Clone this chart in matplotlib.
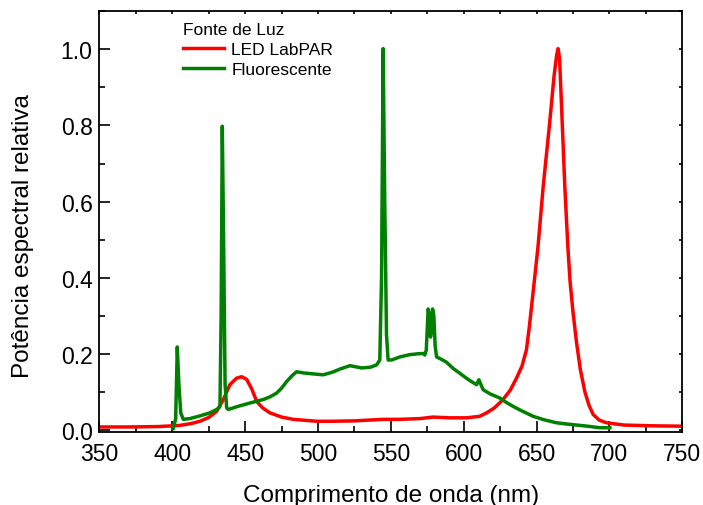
import matplotlib
matplotlib.use('Agg')
import matplotlib.pyplot as plt
from matplotlib.ticker import MultipleLocator, FormatStrFormatter

plt.rcParams['font.family'] = ['Liberation Sans', 'DejaVu Sans']

# LED LabPAR spectrum (nm, relative power)
led_nm = [350, 370, 390, 405, 413, 419, 425, 430.4, 435, 439.5, 444, 447.6, 451, 454.5,
          457.9, 462, 467, 475, 483, 499, 510, 525, 544.7, 556.2, 570, 579, 590, 602,
          611, 615.7, 621, 627, 632, 636.2, 640, 643, 645, 647.6, 651, 654.5, 659.1, 662,
          663.8, 664.8, 665.8, 667.1, 669.4, 671.5, 673, 675, 677.4, 680, 683.1, 686,
          688.8, 693, 698, 710, 730, 750]
led_val = [0.008, 0.008, 0.009, 0.012, 0.017, 0.023, 0.033, 0.049, 0.080, 0.119, 0.136,
           0.140, 0.133, 0.108, 0.075, 0.058, 0.045, 0.034, 0.028, 0.023, 0.023, 0.024,
           0.028, 0.028, 0.030, 0.034, 0.032, 0.032, 0.036, 0.045, 0.058, 0.080, 0.105,
           0.136, 0.168, 0.210, 0.270, 0.361, 0.482, 0.638, 0.811, 0.930, 0.985, 1.002,
           0.975, 0.855, 0.638, 0.480, 0.390, 0.310, 0.231, 0.160, 0.101, 0.065, 0.041,
           0.026, 0.019, 0.013, 0.011, 0.010]

# Fluorescente spectrum
flu_nm = [400.6, 402.3, 403.4, 404.5, 405.8, 407.5, 412, 418, 425.8, 431, 432.7, 433.5,
          434.3, 435.2, 436.2, 437.3, 438.4, 445, 453.3, 462.4, 467, 471.6, 475, 478.4,
          482, 485.3, 490, 495, 503.5, 510, 515, 521.9, 530, 536, 540.2, 542.4, 543.6,
          544.7, 545.8, 547, 548.1, 550.5, 556.2, 563, 568, 572.2, 573.3, 574.3, 575.6,
          576.5, 577.2, 577.9, 578.6, 579.5, 580.4, 581.4, 585, 588.2, 592.7, 597, 601.9,
          605, 608.8, 610.4, 611.5, 613.3, 618, 624.8, 629, 633.9, 640, 647.6, 655,
          663.7, 670, 677.4, 685, 693.4, 700.3]
flu_val = [0.004, 0.030, 0.218, 0.120, 0.045, 0.028, 0.030, 0.036, 0.045, 0.055, 0.062,
           0.300, 0.798, 0.500, 0.120, 0.058, 0.054, 0.062, 0.071, 0.080, 0.087, 0.097,
           0.110, 0.127, 0.142, 0.153, 0.150, 0.148, 0.145, 0.152, 0.160, 0.169, 0.163,
           0.165, 0.171, 0.184, 0.400, 1.002, 0.600, 0.250, 0.184, 0.184, 0.192, 0.198,
           0.200, 0.201, 0.197, 0.210, 0.318, 0.300, 0.244, 0.260, 0.318, 0.300, 0.220,
           0.192, 0.185, 0.178, 0.162, 0.150, 0.136, 0.128, 0.119, 0.132, 0.122, 0.106,
           0.095, 0.084, 0.073, 0.062, 0.050, 0.036, 0.027, 0.019, 0.016, 0.013, 0.010,
           0.006, 0.006]

fig = plt.figure(figsize=(7.03, 5.06), dpi=100)
ax = fig.add_axes([0.1415, 0.1437, 0.829, 0.832])

ax.plot(led_nm, led_val, color='#ff0000', lw=2.5, label='LED LabPAR')
ax.plot(flu_nm, flu_val, color='#008000', lw=2.5, label='Fluorescente')

ax.set_xlim(350, 750)
ax.set_ylim(-0.006, 1.10)
ax.xaxis.set_major_locator(MultipleLocator(50))
ax.xaxis.set_minor_locator(MultipleLocator(25))
ax.yaxis.set_major_locator(MultipleLocator(0.2))
ax.yaxis.set_minor_locator(MultipleLocator(0.1))
ax.yaxis.set_major_formatter(FormatStrFormatter('%.1f'))

ax.tick_params(which='major', direction='in', length=8, width=1.2, labelsize=16.5)
ax.tick_params(which='minor', direction='in', length=4, width=1.2)
ax.tick_params(axis='x', which='major', pad=7)
ax.tick_params(axis='y', which='major', pad=5)
ax.tick_params(which='both', top=True, right=True)
# top/right ticks are barely visible in the original
for t in ax.xaxis.get_ticklines(minor=False)[1::2] + ax.xaxis.get_ticklines(minor=True)[1::2]:
    t.set_markersize(2)
for t in ax.yaxis.get_ticklines(minor=False)[1::2] + ax.yaxis.get_ticklines(minor=True)[1::2]:
    t.set_markersize(2)
for s in ax.spines.values():
    s.set_linewidth(1.3)

ax.set_xlabel('Comprimento de onda (nm)', fontsize=17.5, labelpad=14)
ax.set_ylabel('Potência espectral relativa', fontsize=17.5)
ax.yaxis.set_label_coords(-0.1124, 0.469)

leg = ax.legend(title='Fonte de Luz', loc='upper left', bbox_to_anchor=(0.125, 1.0),
                frameon=False, fontsize=12.5, title_fontsize=12.5, handlelength=2.4,
                handletextpad=0.4, borderaxespad=0.2, labelspacing=0.3)
leg._legend_box.align = 'left'

fig.savefig('out.png', dpi=100)
